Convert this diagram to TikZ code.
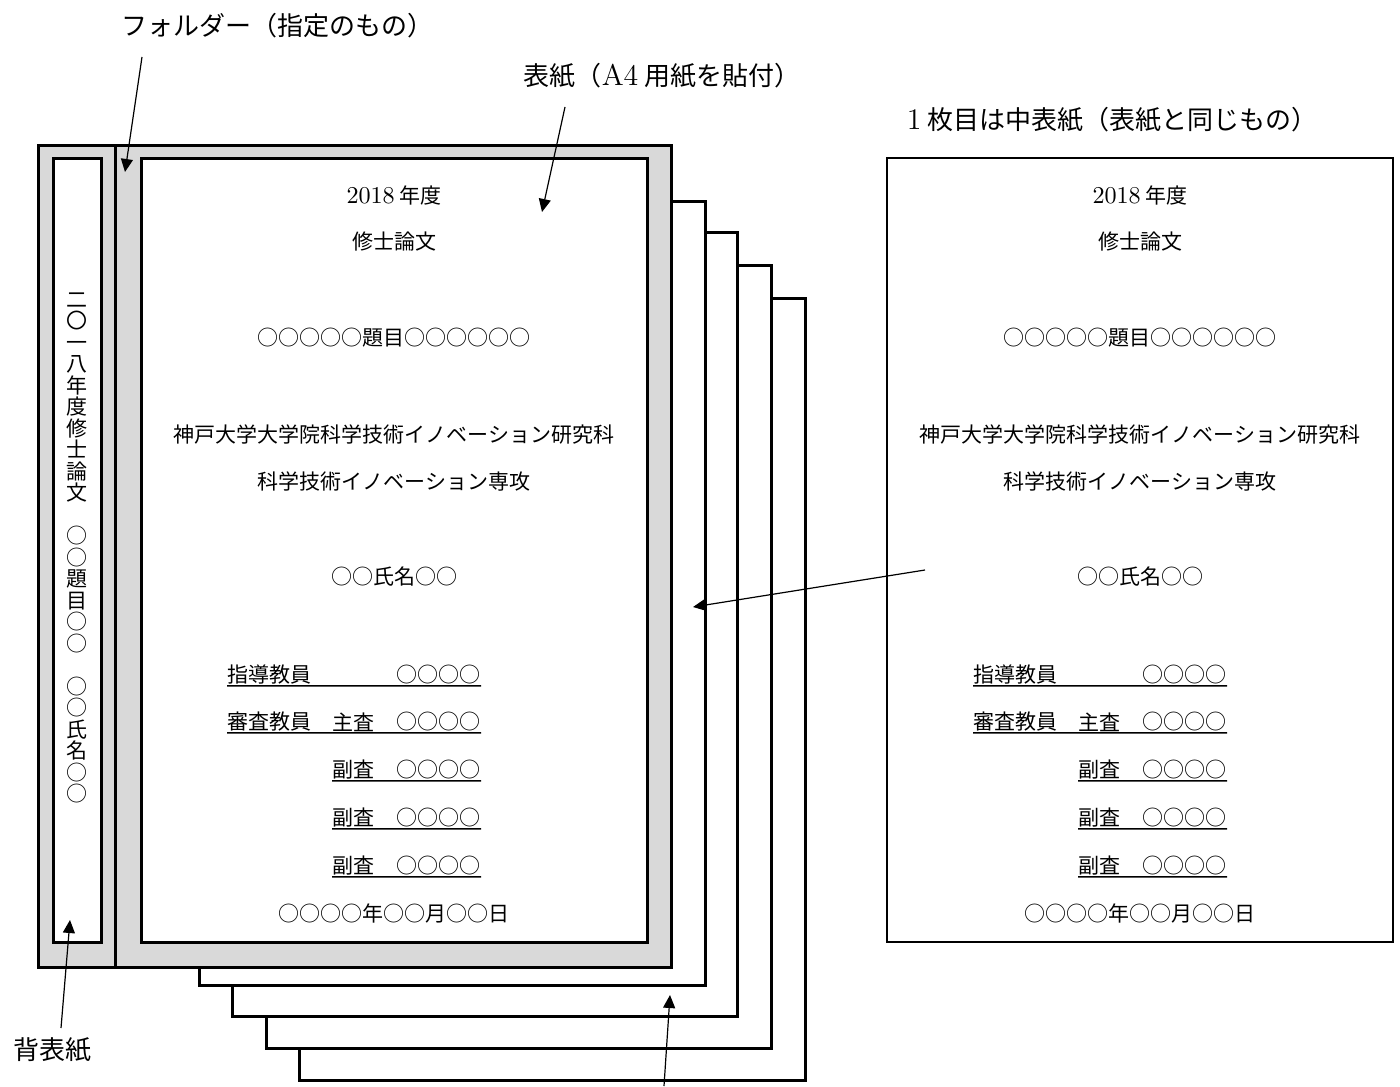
\documentclass[tikz,border=0pt]{standalone}
\usepackage{fontspec}
\newfontfamily\jp{Noto Sans CJK JP}
\usetikzlibrary{arrows.meta}
\definecolor{foldergray}{RGB}{217,217,217}
\newcommand\lm[1]{\scalebox{1.15}{\normalfont #1}}
\tikzset{
  paper/.style={draw,line width=1.5pt,fill=white},
  pointer/.style={-{Triangle[length=6.5pt,width=6pt]},line width=0.6pt},
  body/.style={font=\jp\fontsize{10.5}{12}\selectfont,inner sep=0pt},
  caption/.style={font=\jp\fontsize{13}{15}\selectfont,inner sep=0pt},
  rule/.style={line width=0.75pt}
}
\newcommand\coverpage[2]{%
  \node[body] (#1year) at (#2,195) {\lm{2018} 年度};
  \node[body] (#1kind) at (#2,242) {修士論文};
  \node[body] (#1title) at (#2,338) {○○○○○題目○○○○○○};
  \node[body] (#1school) at (#2,435) {神戸大学大学院科学技術イノベーション研究科};
  \node[body] (#1major) at (#2,481) {科学技術イノベーション専攻};
  \node[body] (#1name) at (#2,577) {○○氏名○○};
  \node[body,anchor=west] (#1sup) at ({#2-167},675) {指導教員};
  \node[body,anchor=east] (#1supn) at ({#2+87},675) {○○○○};
  \draw[rule] ([yshift=-1.5pt]#1sup.base west) -- ([yshift=-1.5pt]#1supn.base east);
  \node[body,anchor=west] (#1exa) at ({#2-167},722) {審査教員};
  \node[body,anchor=west] (#1chief) at ({#2-62},722) {主査};
  \node[body,anchor=east] (#1chiefn) at ({#2+87},722) {○○○○};
  \draw[rule] ([yshift=-1.5pt]#1exa.base west) -- ([yshift=-1.5pt]#1chiefn.base east);
  \foreach \yy [count=\k] in {770,818,866} {
    \node[body,anchor=west] (#1sub\k) at ({#2-62},\yy) {副査};
    \node[body,anchor=east] (#1subn\k) at ({#2+87},\yy) {○○○○};
    \draw[rule] ([yshift=-1.5pt]#1sub\k.base west) -- ([yshift=-1.5pt]#1subn\k.base east);
  }
  \node[body] (#1date) at (#2,913) {○○○○年○○月○○日};
}
\begin{document}
\begin{tikzpicture}[x=0.5pt,y=-0.5pt]
  \useasboundingbox (0,0) rectangle (1400,1086);
  \foreach \l/\t/\r/\b in {299/298/805/1080,266/265/771/1048,232/232/737/1016,199/201/705/985}
    \draw[paper] (\l,\t) rectangle (\r,\b);
  \draw[line width=1.5pt,fill=foldergray] (38,145) rectangle (671,967);
  \draw[line width=1.5pt] (115,145) -- (115,967);
  \draw[paper] (53,158) rectangle (101,942);
  \draw[paper] (141,158) rectangle (647,942);
  \draw[rule] (887,158) rectangle (1393,942);

  \node[body,align=center,font=\jp\fontsize{10.5}{10.75}\selectfont] (spinetext) at (77,548)
    {二\\〇\\一\\八\\年\\度\\修\\士\\論\\文\\　\\○\\○\\題\\目\\○\\○\\　\\○\\○\\氏\\名\\○\\○};

  \coverpage{c}{394}
  \coverpage{m}{1140}

  \node[caption] (foldercap) at (277,26) {フォルダー（指定のもの）};
  \node[caption] (covercap) at (662,76) {表紙（\lm{A4} 用紙を貼付）};
  \node[caption] (innercap) at (1112,120) {\lm{1} 枚目は中表紙（表紙と同じもの）};
  \node[caption] (spinecap) at (52,1050) {背表紙};

  \coordinate (fldfrom) at (142,57);
  \coordinate (fldto) at (125,172);
  \coordinate (covfrom) at (565,107);
  \coordinate (covto) at (542,212);
  \coordinate (innfrom) at (925,570);
  \coordinate (innto) at (693,607);
  \coordinate (stkfrom) at (664,1086);
  \coordinate (stkto) at (670,995);
  \coordinate (spnfrom) at (61,1028);
  \coordinate (spnto) at (70,920);
  \draw[pointer] (fldfrom) -- (fldto);
  \draw[pointer] (covfrom) -- (covto);
  \draw[pointer] (innfrom) -- (innto);
  \draw[pointer] (stkfrom) -- (stkto);
  \draw[pointer] (spnfrom) -- (spnto);
\end{tikzpicture}
\end{document}
